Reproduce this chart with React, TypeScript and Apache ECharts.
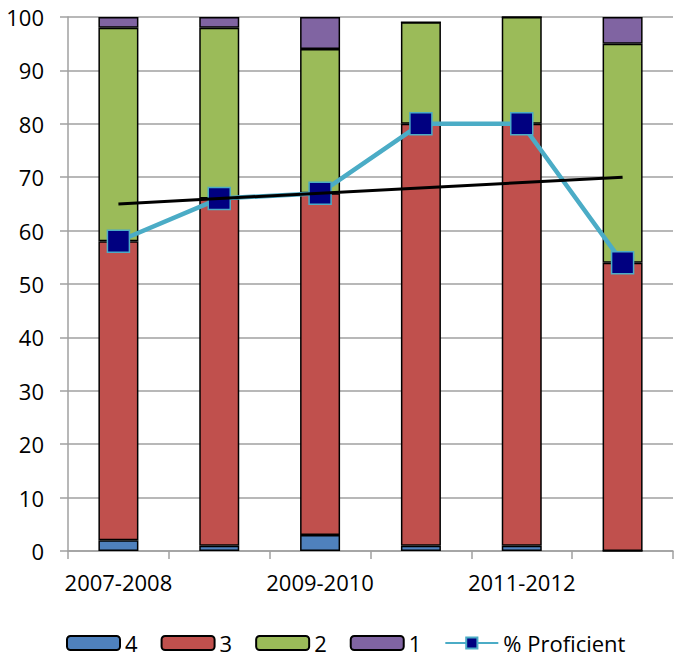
import React, { useEffect, useRef } from "react";
import * as echarts from "echarts";

const categories = ["2007-2008", "2008-2009", "2009-2010", "2010-2011", "2011-2012", "2012-2013"];
const level4 = [2, 1, 3, 1, 1, 0];
const level3 = [56, 65, 64, 79, 79, 54];
const level2 = [40, 32, 27, 19, 20, 41];
const level1 = [2, 2, 6, 0, 0, 5];
const proficient = [58, 66, 67, 80, 80, 54];
const trend = [65, null, null, null, null, 70];

const FONT = "'Open Sans', sans-serif";
const GRID_GRAY = "#a0a0a0";

export default function App() {
  const ref = useRef<HTMLDivElement>(null);
  useEffect(() => {
    if (!ref.current) return;
    const chart = echarts.init(ref.current, null, { renderer: "svg" });
    const barBase = (name: string, data: number[], color: string) => ({
      name,
      type: "bar",
      stack: "total",
      data,
      barWidth: 40,
      itemStyle: { color, borderColor: "#000", borderWidth: 1.5 },
      z: 2,
    });
    chart.setOption({
      animation: false,
      textStyle: { fontFamily: FONT },
      grid: { left: 68, right: 1, top: 17, bottom: 107, containLabel: false },
      legend: {
        left: 61,
        top: 626,
        padding: 5,
        itemWidth: 53,
        itemHeight: 14,
        itemGap: 23,
        textStyle: { fontSize: 22, color: "#000", fontFamily: FONT, lineHeight: 24 },
        data: ["4", "3", "2", "1", "% Proficient"],
      },
      xAxis: {
        type: "category",
        data: categories,
        axisLine: { show: true, lineStyle: { color: GRID_GRAY, width: 1.5 } },
        axisTick: { show: true, interval: 0, length: 8, lineStyle: { color: GRID_GRAY, width: 1.5 } },
        axisLabel: { interval: 1, fontSize: 22, color: "#000", margin: 20, fontFamily: FONT },
        splitLine: { show: false },
      },
      yAxis: {
        type: "value",
        min: 0,
        max: 100,
        interval: 10,
        axisLine: { show: true, lineStyle: { color: GRID_GRAY, width: 1.5 } },
        axisTick: { show: true, length: 8, lineStyle: { color: GRID_GRAY, width: 1.5 } },
        axisLabel: { fontSize: 22, color: "#000", margin: 24, fontFamily: FONT },
        splitLine: { show: true, lineStyle: { color: GRID_GRAY, width: 1.5 } },
      },
      series: [
        barBase("4", level4, "#4F81BD"),
        barBase("3", level3, "#C0504D"),
        barBase("2", level2, "#9BBB59"),
        barBase("1", level1, "#8064A2"),
        {
          name: "% Proficient",
          type: "line",
          data: proficient,
          symbol: "rect",
          symbolSize: 22,
          lineStyle: { color: "#4BACC6", width: 4.5 },
          itemStyle: { color: "#000080", borderColor: "#4BACC6", borderWidth: 1.5 },
          z: 3,
        },
        {
          name: "trend",
          type: "line",
          data: trend,
          connectNulls: true,
          symbol: "none",
          lineStyle: { color: "#000", width: 3 },
          z: 4,
        },
      ],
    });
    return () => chart.dispose();
  }, []);
  return (
    <div
      ref={ref}
      style={{ position: "fixed", left: 0, top: 0, width: 674, height: 658, background: "#fff" }}
    />
  );
}
